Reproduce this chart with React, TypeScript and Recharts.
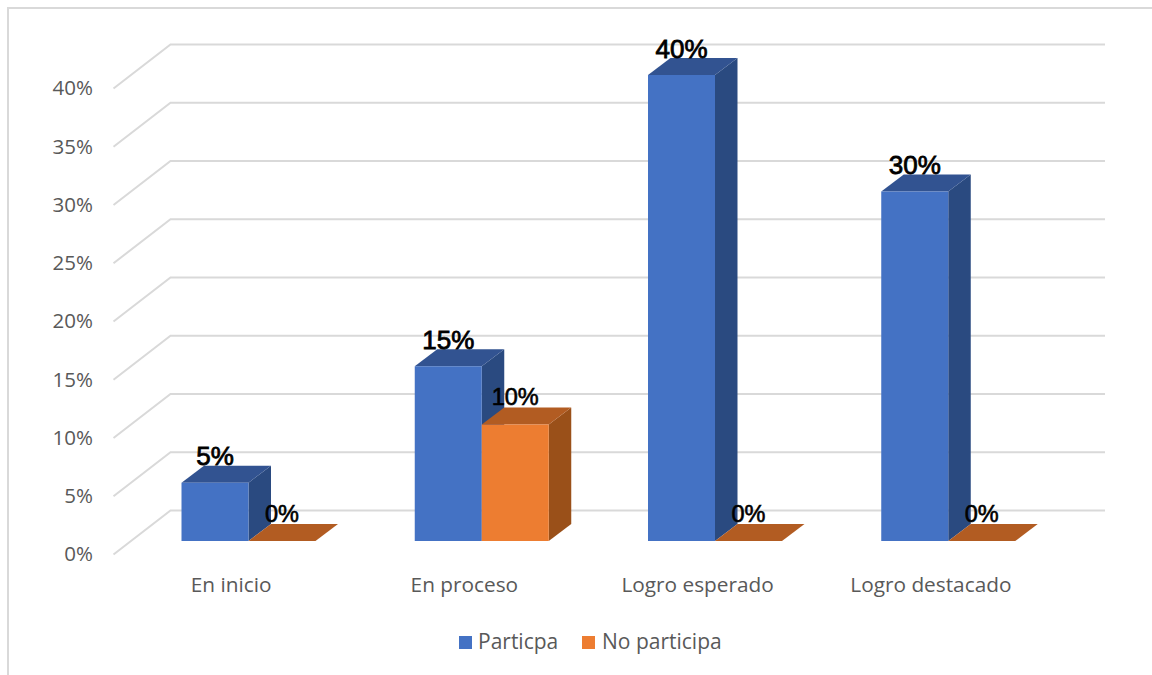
import { BarChart, Bar, XAxis, YAxis, CartesianGrid, LabelList, Legend } from 'recharts';

const categories = ['En inicio', 'En proceso', 'Logro esperado', 'Logro destacado'];
const participa = [5, 15, 40, 30];
const noParticipa = [0, 10, 0, 0];
const yTicks = [0, 5, 10, 15, 20, 25, 30, 35, 40];

const data = categories.map((name, i) => ({ name, participa: participa[i], noParticipa: noParticipa[i] }));

const DEPTH_X = 22.5;
const DEPTH_Y = 17;
const TEXT_FONT = '"Open Sans", sans-serif';

const Bar3D = ({ x, y, width, height, front, top, side }: any) => (
  <g>
    <polygon points={`${x + width},${y} ${x + width + DEPTH_X},${y - DEPTH_Y} ${x + width + DEPTH_X},${y + height - DEPTH_Y} ${x + width},${y + height}`} fill={side} />
    <polygon points={`${x},${y} ${x + DEPTH_X},${y - DEPTH_Y} ${x + width + DEPTH_X},${y - DEPTH_Y} ${x + width},${y}`} fill={top} />
    <rect x={x} y={y} width={width} height={height} fill={front} />
  </g>
);

// grid runs along the side wall and then the back wall
const WallLine = ({ y1, x1, x2 }: any) => (
  <polyline
    points={`${x1 - 18},${y1 + 13.5} ${x1 + 39},${y1 - 30.5} ${x2 + 40.5},${y1 - 30.5}`}
    fill="none"
    stroke="#d9d9d9"
    strokeWidth={2}
  />
);

const valueLabel = (size: number, lift: number, stroke: number) => ({ x, y, width, value }: any) => (
  <text
    x={x + width / 2}
    y={y - lift}
    textAnchor="middle"
    fontFamily="Liberation Sans, sans-serif"
    fontSize={size}
    fill="#000"
    stroke="#000"
    strokeWidth={stroke}
  >
    {value}%
  </text>
);

const LegendRow = () => (
  <div style={{ position: 'relative', height: 30, fontFamily: TEXT_FONT, fontSize: 21, color: '#595959' }}>
    <span style={{ position: 'absolute', left: 459, top: 9, width: 13, height: 13, background: '#4472C4' }} />
    <span style={{ position: 'absolute', left: 478, top: 0 }}>Particpa</span>
    <span style={{ position: 'absolute', left: 582, top: 9, width: 13, height: 13, background: '#ED7D31' }} />
    <span style={{ position: 'absolute', left: 602, top: 0 }}>No participa</span>
  </div>
);

export default function App() {
  return (
    <div style={{ position: 'absolute', left: 0, top: 0, width: 1152, height: 675, background: '#fff', overflow: 'hidden' }}>
      <div style={{ position: 'absolute', left: 7, top: 7, width: 1200, height: 800, border: '2px solid #d9d9d9' }} />
      <div style={{ position: 'absolute', left: 0, top: 0 }}>
        <BarChart
          width={1152}
          height={675}
          data={data}
          barGap={0}
          barCategoryGap={50}
          margin={{ top: 75, right: 87.5, bottom: 64, left: 0 }}
        >
          <CartesianGrid vertical={false} horizontal={(props: any) => <WallLine key={props.key} {...props} />} />
          <XAxis
            dataKey="name"
            axisLine={false}
            tickLine={false}
            interval={0}
            height={40}
            tick={{ fontSize: 20.8, fontFamily: TEXT_FONT, fill: '#595959', dx: -17, dy: 28 }}
          />
          <YAxis
            domain={[0, 40]}
            ticks={yTicks}
            width={131.5}
            axisLine={false}
            tickLine={false}
            tickMargin={32.5}
            tickFormatter={(v) => `${v}%`}
            tick={{ fontSize: 20.5, fontFamily: TEXT_FONT, fill: '#595959', dy: 13 }}
          />
          <Legend content={<LegendRow />} verticalAlign="bottom" wrapperStyle={{ left: 0, width: 1152, top: 627 }} />
          <Bar
            dataKey="participa"
            name="Particpa"
            isAnimationActive={false}
            shape={(p: any) => <Bar3D {...p} front="#4472C4" top="#325391" side="#2A4A80" />}
          >
            <LabelList dataKey="participa" content={valueLabel(26, 17.5, 0.8)} />
          </Bar>
          <Bar
            dataKey="noParticipa"
            name="No participa"
            isAnimationActive={false}
            shape={(p: any) => <Bar3D {...p} front="#ED7D31" top="#B25C22" side="#9A5019" />}
          >
            <LabelList dataKey="noParticipa" content={valueLabel(23.5, 19.5, 0.6)} />
          </Bar>
        </BarChart>
      </div>
    </div>
  );
}
